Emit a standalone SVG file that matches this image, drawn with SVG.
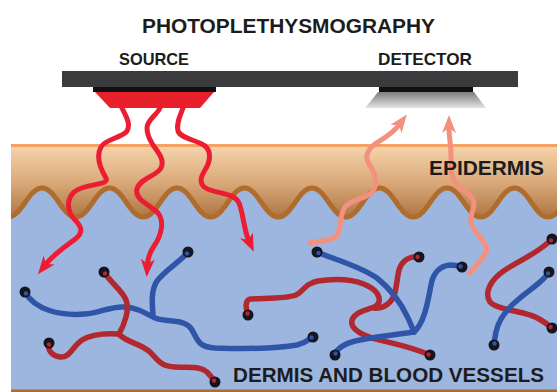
<svg xmlns="http://www.w3.org/2000/svg" width="557" height="392" viewBox="0 0 557 392">
  <defs>
    <linearGradient id="epiFill" x1="0" y1="0" x2="0" y2="1">
      <stop offset="0" stop-color="#f6d5ad"/>
      <stop offset="0.45" stop-color="#d9a878"/>
      <stop offset="1" stop-color="#9c6430"/>
    </linearGradient>
    <linearGradient id="detFill" x1="0" y1="0" x2="0" y2="1">
      <stop offset="0" stop-color="#7d7d80"/>
      <stop offset="1" stop-color="#e4e4e6"/>
    </linearGradient>
    <marker id="headRed" markerUnits="userSpaceOnUse" markerWidth="20" markerHeight="16" viewBox="0 -8 20 16" refX="5" refY="0" orient="auto">
      <path d="M0,-7 L18,0 L0,7 L5,0 Z" fill="#ec1d33"/>
    </marker>
    <marker id="headSalmon" markerUnits="userSpaceOnUse" markerWidth="20" markerHeight="16" viewBox="0 -8 20 16" refX="5" refY="0" orient="auto">
      <path d="M0,-7 L18,0 L0,7 L5,0 Z" fill="#f4917e"/>
    </marker>
    <style>
      .label { font-family: "Liberation Sans", Arial, sans-serif; font-weight: bold; fill: #1c1c1c; }
      .ray { fill: none; stroke-width: 5; stroke-linecap: round; stroke-linejoin: round; }
      .in { stroke: #ec1d33; marker-end: url(#headRed); }
      .out { stroke: #f4917e; marker-end: url(#headSalmon); }
      .vessel { fill: none; stroke-width: 5.5; stroke-linecap: round; stroke-linejoin: round; }
      .artery { stroke: #b1282f; }
      .vein { stroke: #2e55a7; }
      .cap { fill: #15151f; }
      .capA { fill: #b1282f; }
      .capV { fill: #2e55a7; }
    </style>
  </defs>

  <!-- skin: epidermis over dermis -->
  <g id="skin">
    <rect x="11" y="145" width="546" height="85" fill="url(#epiFill)"/>
    <path id="dermis" d="M8.25,217 c13.5,0 20.25,-29 33.75,-29 c13.5,0 20.25,29 33.75,29 c13.5,0 20.25,-29 33.75,-29 c13.5,0 20.25,29 33.75,29 c13.5,0 20.25,-29 33.75,-29 c13.5,0 20.25,29 33.75,29 c13.5,0 20.25,-29 33.75,-29 c13.5,0 20.25,29 33.75,29 c13.5,0 20.25,-29 33.75,-29 c13.5,0 20.25,29 33.75,29 c13.5,0 20.25,-29 33.75,-29 c13.5,0 20.25,29 33.75,29 c13.5,0 20.25,-29 33.75,-29 c13.5,0 20.25,29 33.75,29 c13.5,0 20.25,-29 33.75,-29 c13.5,0 20.25,29 33.75,29 c13.5,0 20.25,-29 33.75,-29 L582,392 L8.25,392 Z" fill="#9db6e0" stroke="#b06c2c" stroke-width="5" clip-path="url(#skinClip)"/>
    <clipPath id="skinClip"><rect x="11" y="140" width="546" height="252"/></clipPath>
    <line x1="11" y1="145.5" x2="557" y2="145.5" stroke="#f2a264" stroke-width="3"/>
  </g>

  <!-- probe housing -->
  <g id="probe">
    <rect x="62" y="71" width="456" height="16" fill="#3b3b3d"/>
  </g>
  <g id="source">
    <rect x="93" y="87" width="123" height="5" fill="#111"/>
    <polygon points="95,92 214,92 200,108 110,108" fill="#e8202c"/>
  </g>
  <g id="detector">
    <rect x="379" y="87" width="94" height="5" fill="#111"/>
    <polygon points="378,92 474,92 486,108 365,108" fill="url(#detFill)"/>
  </g>

  <!-- blood vessels -->
  <g id="vessels">
    <path class="vessel artery" d="M248,315 C246,309 244,301 250,299 C265,298 285,299 296,295 C304,291 304,284 318,281 C335,278 355,279 368,286 C380,292 383,303 374,307 C364,311 355,312 352,320 C350,328 360,334 372,338 C390,343 410,346 430,355"/>
    <path class="vessel artery" d="M419,257 C410,256 402,260 399,270 C396,282 397,295 390,302 C385,307 380,309 374,308"/>
    <path class="vessel artery" d="M552,239 C540,252 520,260 505,270 C490,280 484,293 490,302 C496,309 515,310 530,315 C540,318 546,323 552,328"/>

    <path class="vessel vein" d="M25,292 C35,310 60,316 85,314 C100,313 110,306 125,307 C138,308 145,313 155,318 C168,323 185,318 192,330 C198,340 198,347 215,348 C245,349 280,348 297,345 C306,343 309,339 313,337"/>
    <path class="vessel vein" d="M188,252 C180,262 165,270 157,281 C151,290 152,303 153,315"/>
    <path class="vessel vein" d="M317,252 C330,258 358,265 377,278 C392,290 402,305 408,318 C411,325 413,329 414,332"/>
    <path class="vessel vein" d="M414,332 C400,334 380,336 360,340 C345,343 337,348 335,355"/>
    <path class="vessel vein" d="M414,332 C425,322 428,300 431,285 C433,273 440,266 450,265 C455,265 459,266 462,267"/>
    <path class="vessel vein" d="M549,272 C545,280 532,288 520,298 C505,310 498,322 496,332 C495,338 494,342 494,345"/>

    <path class="vessel artery" d="M104,272 C110,282 122,290 126,300 C130,310 124,325 119,334"/>
    <path class="vessel artery" d="M119,334 C105,333 92,334 82,340 C72,347 70,358 60,357 C52,356 47,350 49,343"/>
    <path class="vessel artery" d="M119,334 C125,342 140,343 150,352 C158,360 160,366 175,367 C190,368 200,366 207,372 C211,376 213,379 215,382"/>

    <g id="vessel-ends">
      <circle class="cap" cx="25" cy="292" r="5.5"/><circle class="capV" cx="26" cy="293.5" r="2.2"/>
      <circle class="cap" cx="188" cy="252" r="5.5"/><circle class="capV" cx="187" cy="253.5" r="2.2"/>
      <circle class="cap" cx="313" cy="337" r="5.5"/><circle class="capV" cx="311.5" cy="337.5" r="2.2"/>
      <circle class="cap" cx="317" cy="252" r="5.5"/><circle class="capV" cx="318.5" cy="253" r="2.2"/>
      <circle class="cap" cx="335" cy="355" r="5.5"/><circle class="capV" cx="335.5" cy="353.5" r="2.2"/>
      <circle class="cap" cx="462" cy="267" r="5.5"/><circle class="capV" cx="460.5" cy="266.5" r="2.2"/>
      <circle class="cap" cx="549" cy="272" r="5.5"/><circle class="capV" cx="548" cy="273.5" r="2.2"/>
      <circle class="cap" cx="494" cy="345" r="5.5"/><circle class="capV" cx="494.5" cy="343.5" r="2.2"/>
      <circle class="cap" cx="104" cy="272" r="5.5"/><circle class="capA" cx="105" cy="273.5" r="2.2"/>
      <circle class="cap" cx="49" cy="343" r="5.5"/><circle class="capA" cx="49" cy="344.5" r="2.2"/>
      <circle class="cap" cx="215" cy="382" r="5.5"/><circle class="capA" cx="214" cy="380.5" r="2.2"/>
      <circle class="cap" cx="248" cy="315" r="5.5"/><circle class="capA" cx="247.5" cy="313.5" r="2.2"/>
      <circle class="cap" cx="430" cy="355" r="5.5"/><circle class="capA" cx="428.5" cy="354.5" r="2.2"/>
      <circle class="cap" cx="419" cy="257" r="5.5"/><circle class="capA" cx="417.5" cy="257" r="2.2"/>
      <circle class="cap" cx="552" cy="239" r="5.5"/><circle class="capA" cx="551" cy="240.5" r="2.2"/>
      <circle class="cap" cx="552" cy="328" r="5.5"/><circle class="capA" cx="550.5" cy="327" r="2.2"/>
    </g>
  </g>

  <!-- light paths: emitted into the skin and returned to the detector -->
  <g id="light">
    <path class="ray in" d="M122,108 C126,116 131,124 127,131 C122,138 105,139 101,147 C96,156 100,168 106,178 C110,186 84,183 74,192 C66,200 67,212 75,220 C82,227 84,233 74,240 C66,246 54,254 46,264"/>
    <path class="ray in" d="M160,108 C156,116 147,120 147,128 C147,136 150,140 153,145 C158,152 165,160 161,168 C157,176 140,178 137,189 C134,200 152,206 158,213 C165,222 161,236 154,246 C150,252 148,256 147.5,264"/>
    <path class="ray in" d="M183,108 C180,116 176,124 178,131 C181,139 198,140 205,146 C212,152 210,162 205,170 C200,178 198,186 210,190 C222,194 235,194 239,203 C243,212 244,230 248.5,240"/>
    <path class="ray out" d="M310,243 C320,241 333,241 337,235 C342,228 339,215 345,207 C352,199 366,199 372,192 C379,184 375,172 369,164 C364,156 368,148 378,142 C386,137 393,133 399,125"/>
    <path class="ray out" d="M470,273 C478,263 490,252 486,246 C482,238 475,232 472,226 C468,218 474,212 474,203 C474,195 460,190 455,182 C450,174 451,165 451,155 C451,145 449,137 449,128"/>
  </g>

  <!-- labels -->
  <g id="labels">
    <text class="label" x="142" y="33" font-size="21" textLength="293" lengthAdjust="spacingAndGlyphs">PHOTOPLETHYSMOGRAPHY</text>
    <text class="label" x="119" y="65" font-size="17" textLength="70" lengthAdjust="spacingAndGlyphs">SOURCE</text>
    <text class="label" x="378" y="65" font-size="17" textLength="94" lengthAdjust="spacingAndGlyphs">DETECTOR</text>
    <text class="label" x="429" y="175" font-size="21" textLength="115" lengthAdjust="spacingAndGlyphs">EPIDERMIS</text>
    <text class="label" x="233" y="382" font-size="21" textLength="311" lengthAdjust="spacingAndGlyphs">DERMIS AND BLOOD VESSELS</text>
  </g>
</svg>
